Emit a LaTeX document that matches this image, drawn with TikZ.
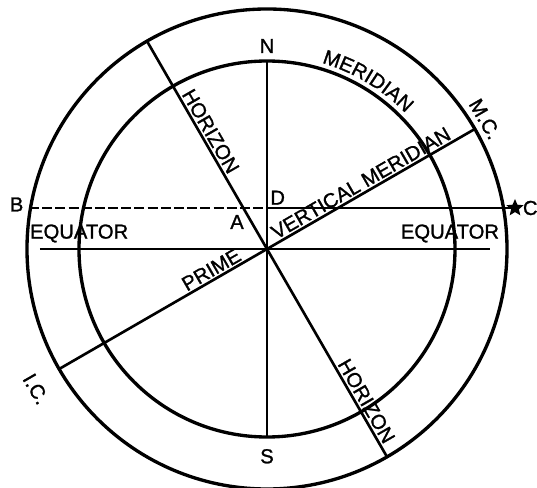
\documentclass[tikz,border=0pt]{standalone}
\usepackage{fontspec}
\setmainfont{Liberation Sans}
\newfontfamily\lblfont{Liberation Sans}[FakeBold=1.2]
\usetikzlibrary{positioning, shapes.geometric, decorations.text}

\begin{document}
\begin{tikzpicture}[
    circ/.style={line width=1.9pt},
    ref/.style={line width=1.5pt},
    lbl/.style={font=\lblfont\fontsize{11.5}{13}\selectfont, inner sep=1pt},
]
    \useasboundingbox (-5.34,-4.78) rectangle (5.40,4.98);

    % Outer and inner circles
    \draw[circ] (0,0) circle (4.8);
    \draw[circ] (0,0) circle (3.76);

    % Reference points
    \coordinate (O) at (0,0);
    \coordinate (Ntop) at (90:3.76);
    \coordinate (Sbot) at (-90:3.76);
    \coordinate (Hup) at (120:4.8);
    \coordinate (Hdn) at (-60:4.8);
    \coordinate (MC) at (30:4.8);
    \coordinate (IC) at (210:4.8);
    \coordinate (EqL) at (-4.54,0);
    \coordinate (EqR) at (4.46,0);
    \coordinate (B) at (-4.76,0.82);
    \coordinate (D) at (0,0.82);
    \coordinate (C) at (4.96,0.82);

    % Meridian N--S
    \draw[ref] (Ntop) -- (Sbot);
    \node[lbl, above=3.4pt of Ntop] (N) {N};
    \node[lbl, below=5.7pt of Sbot] (S) {S};
    \path[decorate, decoration={text along path, text align=center,
        text={|\lblfont\fontsize{11.5}{13}\selectfont|MERIDIAN}}]
        (89:3.88) arc (89:29:3.88);

    % Horizon
    \draw[ref] (Hup) -- (Hdn)
        node[lbl, pos=0.229, sloped, above] {HORIZON}
        node[lbl, pos=0.878, sloped, above] {HORIZON};

    % Prime vertical
    \draw[ref] (IC) -- (MC)
        node[lbl, pos=0.378, sloped, above] {PRIME}
        node[lbl, pos=0.738, sloped, above] {VERTICAL MERIDIAN};
    \node[lbl, rotate=-60] (MClabel) at (4.36,2.60) {M.C.};
    \node[lbl, rotate=-60] (IClabel) at (-4.62,-2.80) {I.C.};

    % Equator
    \draw[ref] (EqL) -- (EqR)
        node[lbl, pos=0.087, above=2pt] {EQUATOR}
        node[lbl, pos=0.911, above=2pt] {EQUATOR};

    % Line B--C
    \draw[ref, dash pattern=on 5.7pt off 1.8pt] (B) -- (D);
    \draw[ref] (D) -- (C);
    \node[star, star points=5, star point ratio=2.2, fill, inner sep=0pt,
        minimum size=0.36cm] (Cstar) at (C) {};
    \node[lbl, right=0pt of Cstar] (Clabel) {C};
    \node[lbl, left=2pt of B, yshift=2pt] (Blabel) {B};
    \node[lbl, above right=1pt of D] (Dlabel) {D};
    \node[lbl] (Alabel) at (-0.6,0.54) {A};
\end{tikzpicture}
\end{document}
